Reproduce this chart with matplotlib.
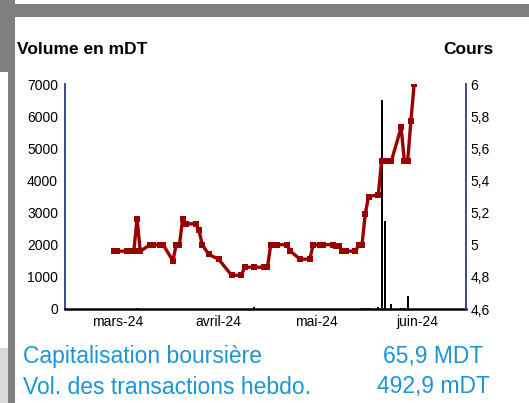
from __future__ import annotations

import matplotlib

matplotlib.use("Agg")

import matplotlib.dates as mdates
import matplotlib.pyplot as plt
import pandas as pd
from matplotlib.patches import Rectangle
from matplotlib.ticker import FuncFormatter

# daily closing price (DT) and traded volume (mDT)
DATES = [
    "2024-02-29", "2024-03-01", "2024-03-04", "2024-03-05", "2024-03-06",
    "2024-03-07", "2024-03-08", "2024-03-11", "2024-03-12", "2024-03-14",
    "2024-03-15", "2024-03-18", "2024-03-19", "2024-03-20", "2024-03-21",
    "2024-03-22", "2024-03-25", "2024-03-26", "2024-03-27", "2024-03-29",
    "2024-04-01", "2024-04-05", "2024-04-08", "2024-04-09", "2024-04-12",
    "2024-04-15", "2024-04-16", "2024-04-17", "2024-04-18", "2024-04-19",
    "2024-04-22", "2024-04-23", "2024-04-26", "2024-04-29", "2024-04-30",
    "2024-05-02", "2024-05-03", "2024-05-06", "2024-05-07", "2024-05-08",
    "2024-05-09", "2024-05-10", "2024-05-13", "2024-05-14", "2024-05-15",
    "2024-05-16", "2024-05-17", "2024-05-20", "2024-05-21", "2024-05-22",
    "2024-05-24", "2024-05-27", "2024-05-28", "2024-05-29", "2024-05-30",
    "2024-05-31",
]
PRICES = [
    4.96, 4.96, 4.96, 4.96, 4.96,
    5.16, 4.96, 5.00, 5.00, 5.00,
    5.00, 4.90, 5.00, 5.00, 5.16,
    5.13, 5.13, 5.09, 5.00, 4.94,
    4.91, 4.81, 4.81, 4.86, 4.86,
    4.86, 4.86, 5.00, 5.00, 5.00,
    5.00, 4.96, 4.91, 4.91, 5.00,
    5.00, 5.00, 5.00, 4.99, 4.99,
    4.96, 4.96, 4.96, 5.00, 5.00,
    5.19, 5.30, 5.31, 5.52, 5.52,
    5.52, 5.73, 5.52, 5.52, 5.77,
    6.00,
]
VOLUMES = [
    8, 5, 12, 6, 10,
    45, 8, 7, 4, 9,
    6, 12, 5, 8, 14,
    6, 5, 9, 7, 11,
    8, 6, 10, 5, 70,
    5, 8, 12, 6, 9,
    7, 5, 10, 6, 8,
    5, 9, 7, 6, 5,
    8, 6, 10, 12, 20,
    40, 25, 60, 6500, 2750,
    150, 20, 35, 420, 10,
    8,
]

MONTH_STARTS = ["2024-03-01", "2024-04-01", "2024-05-01", "2024-06-01"]
MONTH_LABELS = ["mars-24", "avril-24", "mai-24", "juin-24"]
VOLUME_TICKS = [0, 1000, 2000, 3000, 4000, 5000, 6000, 7000]
PRICE_TICKS = [4.6, 4.8, 5.0, 5.2, 5.4, 5.6, 5.8, 6.0]

CAP_LABEL = "Capitalisation boursière"
CAP_VALUE = "65,9 MDT"
VOL_LABEL = "Vol. des transactions hebdo."
VOL_VALUE = "492,9 mDT"

WIDTH_PX, HEIGHT_PX = 529, 403
LINE_RED = "#990000"
AXIS_NAVY = "#2E3A85"
INFO_BLUE = "#1B95D6"


def _fig_box(x0: float, y0: float, x1: float, y1: float) -> tuple[float, float, float, float]:
    # pixel box (top-left origin) -> figure fraction (left, bottom, width, height)
    return (
        x0 / WIDTH_PX,
        1 - y1 / HEIGHT_PX,
        (x1 - x0) / WIDTH_PX,
        (y1 - y0) / HEIGHT_PX,
    )


def _add_frame(figure) -> None:
    boxes = [
        ((0, 4, 529, 17), "#808080"),
        ((0, 0, 15, 72), "#808080"),
        ((8, 72, 15, 403), "#808080"),
        ((0, 348, 8, 403), "#D9D9D9"),
    ]
    for (x0, y0, x1, y1), color in boxes:
        left, bottom, width, height = _fig_box(x0, y0, x1, y1)
        figure.add_artist(
            Rectangle(
                (left, bottom),
                width,
                height,
                transform=figure.transFigure,
                facecolor=color,
                edgecolor="none",
                zorder=0,
            )
        )


def main() -> None:
    plt.rcParams["font.family"] = ["Liberation Sans", "DejaVu Sans"]

    dates = pd.to_datetime(DATES)
    mar_first = mdates.date2num(pd.Timestamp("2024-03-01"))
    x_min = mar_first - 16.1
    x_max = x_min + 123.0

    figure = plt.figure(figsize=(WIDTH_PX / 100, HEIGHT_PX / 100), dpi=100)
    figure.patch.set_facecolor("white")
    _add_frame(figure)

    axis = figure.add_axes(_fig_box(65, 84, 466, 309))
    axis.bar(dates, VOLUMES, width=0.65, color="black", linewidth=0, zorder=2)
    axis.set_xlim(x_min, x_max)
    axis.set_ylim(VOLUME_TICKS[0], VOLUME_TICKS[-1])
    axis.set_yticks(VOLUME_TICKS)
    axis.set_xticks(mdates.date2num(pd.to_datetime(MONTH_STARTS)))
    axis.set_xticklabels(MONTH_LABELS)
    axis.tick_params(axis="x", length=0, pad=4, labelsize=10)
    axis.tick_params(axis="y", length=0, pad=5, labelsize=10)
    for side in ("top", "right"):
        axis.spines[side].set_visible(False)
    axis.spines["left"].set_color(AXIS_NAVY)
    axis.spines["left"].set_linewidth(1.3)
    axis.spines["bottom"].set_color("black")
    axis.spines["bottom"].set_linewidth(1.8)
    axis.spines["bottom"].set_zorder(4)

    price_axis = axis.twinx()
    price_axis.plot(
        dates,
        PRICES,
        color=LINE_RED,
        linewidth=2.4,
        marker="s",
        markersize=3.9,
        markeredgewidth=0,
        zorder=3,
    )
    price_axis.set_xlim(x_min, x_max)
    price_axis.set_ylim(PRICE_TICKS[0], PRICE_TICKS[-1])
    price_axis.set_yticks(PRICE_TICKS)
    price_axis.yaxis.set_major_formatter(
        FuncFormatter(lambda value, _pos: f"{value:g}".replace(".", ","))
    )
    price_axis.tick_params(axis="y", length=0, pad=3, labelsize=10)
    for side in ("top", "left", "bottom"):
        price_axis.spines[side].set_visible(False)
    price_axis.spines["right"].set_color(AXIS_NAVY)
    price_axis.spines["right"].set_linewidth(1.3)

    title_y = 1 - 49 / HEIGHT_PX
    figure.text(17 / WIDTH_PX, title_y, "Volume en mDT", fontsize=12.5,
                fontweight="bold", ha="left", va="center")
    figure.text(494 / WIDTH_PX, title_y, "Cours", fontsize=12.5,
                fontweight="bold", ha="right", va="center")

    for label, value, y_px in ((CAP_LABEL, CAP_VALUE, 356), (VOL_LABEL, VOL_VALUE, 387)):
        y_frac = 1 - y_px / HEIGHT_PX
        figure.text(23 / WIDTH_PX, y_frac, label, fontsize=16.5, color=INFO_BLUE,
                    ha="left", va="center")
        figure.text(433 / WIDTH_PX, y_frac, value, fontsize=16.5, color=INFO_BLUE,
                    ha="center", va="center")

    figure.savefig("out.png", dpi=100)
    plt.close(figure)


if __name__ == "__main__":
    main()
